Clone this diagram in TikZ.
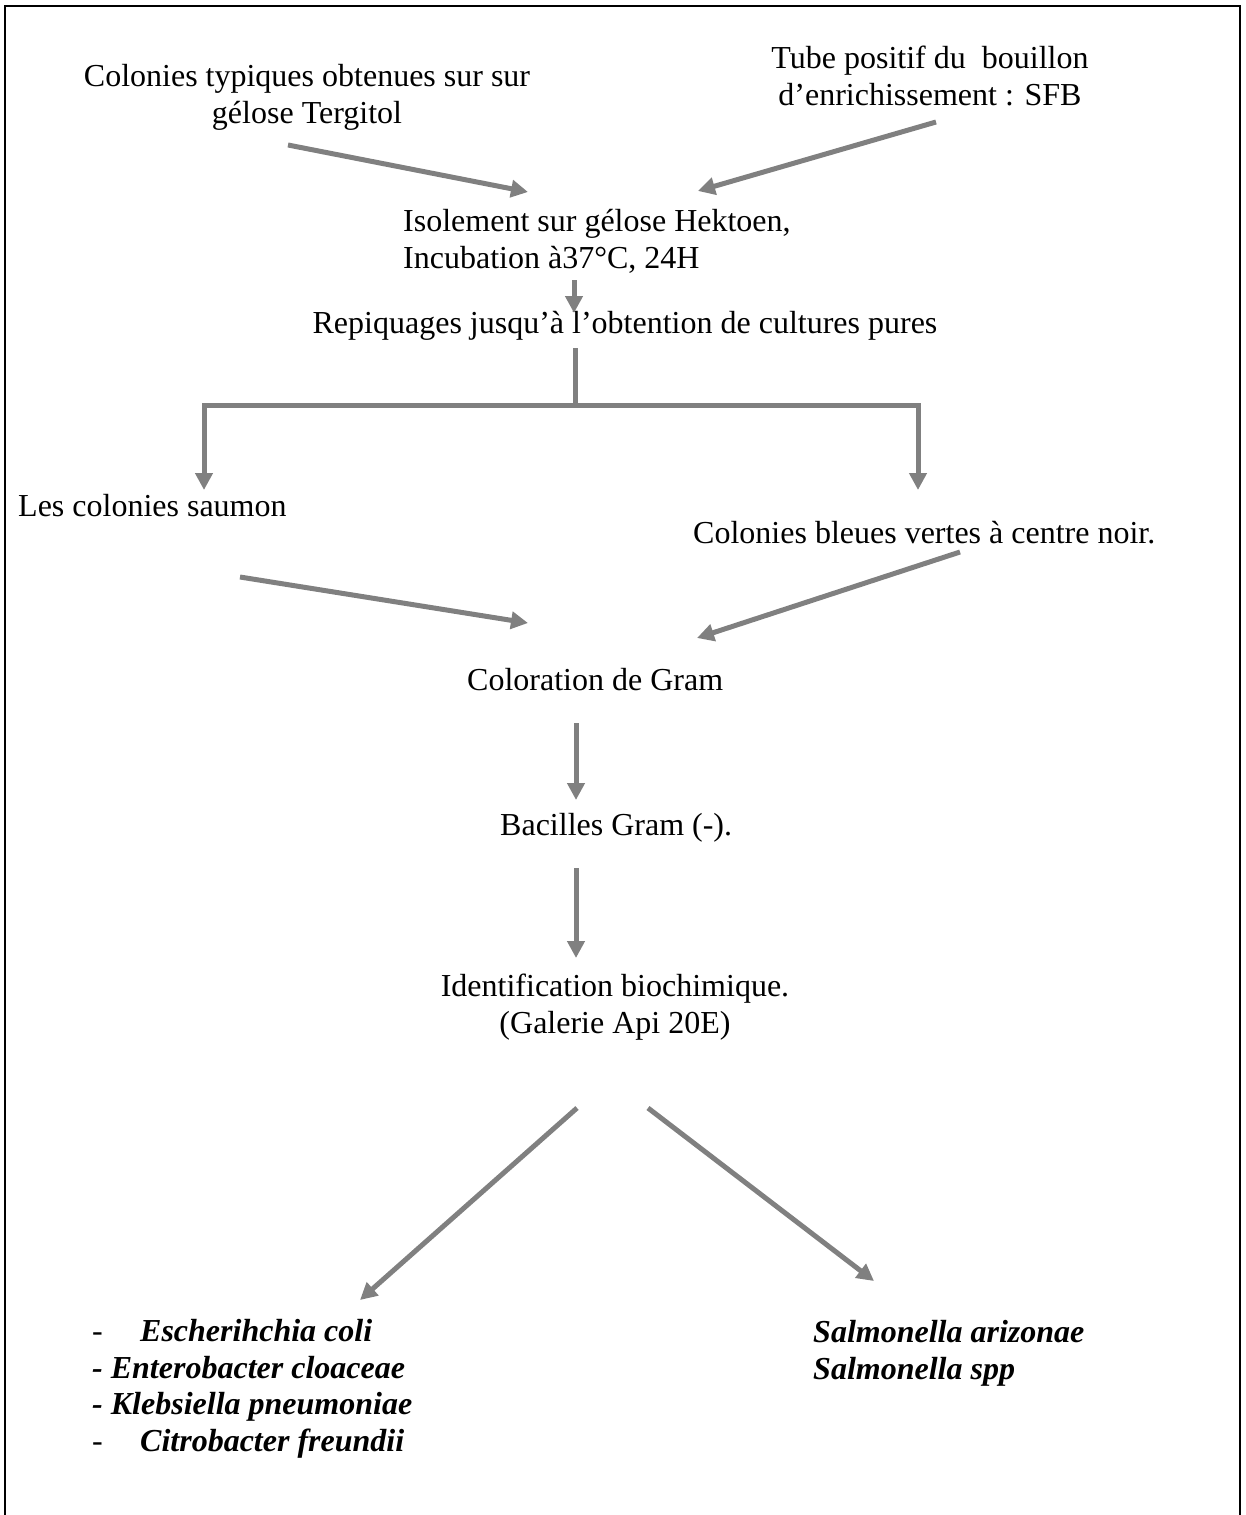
\documentclass[tikz,border=0pt]{standalone}
\usepackage{fontspec}
\setmainfont{Liberation Serif}
\usepackage{tikz}
\usetikzlibrary{positioning, arrows.meta}
\definecolor{flgray}{HTML}{808080}

\begin{document}
\begin{tikzpicture}[x=1pt,y=-1pt,
    font=\fontsize{32}{36.5}\selectfont,
    txt/.style={inner sep=0pt},
    grayarrow/.style={draw=flgray,line width=5pt,-{Triangle[length=17pt,width=17pt]}},
    grayline/.style={draw=flgray,line width=5pt}]
    \useasboundingbox (0,0) rectangle (1245,1515);
    \draw[line width=2pt] (5,1515) -- (5,6) -- (1240,6) -- (1240,1515);

    \node[txt,anchor=base,align=center] (src1) at (307,123)
        {Colonies typiques obtenues sur sur\\gélose Tergitol};
    \node[txt,anchor=base,align=center] (src2) at (930,105)
        {Tube positif du\ \ bouillon\\d’enrichissement : SFB};
    \node[txt,anchor=base west,align=left] (isol) at (403,268)
        {Isolement sur gélose Hektoen,\\Incubation à37°C, 24H};
    \node[txt,anchor=base] (repiq) at (625,333)
        {Repiquages jusqu’à l’obtention de cultures pures};
    \node[txt,anchor=base west] (saumon) at (18,516) {Les colonies saumon};
    \node[txt,anchor=base west] (bleues) at (693,543) {Colonies bleues vertes à centre noir.};
    \node[txt,anchor=base west] (gram) at (467,690) {Coloration de Gram};
    \node[txt,anchor=base west] (bacil) at (500,835) {Bacilles Gram (-).};
    \node[txt,anchor=base,align=center] (ident) at (615,1033)
        {Identification biochimique.\\(Galerie Api 20E)};
    \node[txt,anchor=base west,align=left] (listL) at (92,1451)
        {\makebox[48pt][l]{-}\textbf{\textit{Escherihchia coli}}\\
         \textbf{\textit{- Enterobacter cloaceae}}\\
         \textbf{\textit{- Klebsiella pneumoniae}}\\
         \makebox[48pt][l]{-}\textbf{\textit{Citrobacter freundii}}};
    \node[txt,anchor=base west,align=left] (listR) at (813,1379)
        {\textbf{\textit{Salmonella arizonae}}\\\textbf{\textit{Salmonella spp}}};

    % sources -> isolement
    \draw[grayarrow] ([shift={(-19,22)}]src1.base) -- ([shift={(125,-76)}]isol.base west);
    \draw[grayarrow] ([shift={(6,17)}]src2.base) -- ([shift={(295,-77)}]isol.base west);
    \draw[grayarrow] ([shift={(171,12)}]isol.base west) -- ([shift={(-51,-20)}]repiq.base);
    % fourche
    \draw[grayline] ([shift={(-50,15)}]repiq.base) -- ++(0,57) coordinate (fork);
    \draw[grayarrow] (fork) -| ([shift={(186,-26)}]saumon.base west);
    \draw[grayarrow] (fork) -| ([shift={(225,-53)}]bleues.base west);
    % colonies -> Gram
    \draw[grayarrow] ([shift={(222,61)}]saumon.base west) -- ([shift={(61,-67)}]gram.base west);
    \draw[grayarrow] ([shift={(267,9)}]bleues.base west) -- ([shift={(230,-52)}]gram.base west);
    \draw[grayarrow] ([shift={(109,33)}]gram.base west) -- ([shift={(76,-35)}]bacil.base west);
    \draw[grayarrow] ([shift={(76,33)}]bacil.base west) -- ([shift={(-39,-75)}]ident.base);
    % identification -> especes
    \draw[grayarrow] ([shift={(-38,75)}]ident.base) -- ([shift={(268,-151)}]listL.base west);
    \draw[grayarrow] ([shift={(33,75)}]ident.base) -- ([shift={(61,-98)}]listR.base west);
\end{tikzpicture}
\end{document}
